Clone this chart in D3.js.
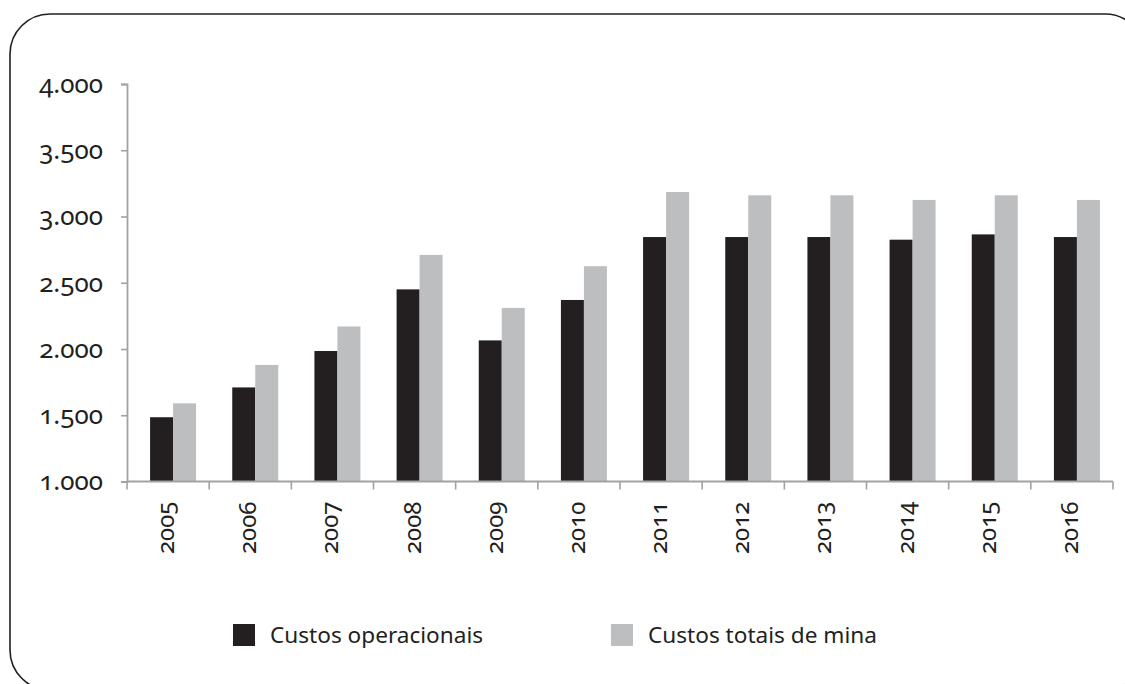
<!DOCTYPE html>
<html>
<head>
<meta charset="utf-8">
<script src="https://cdn.jsdelivr.net/npm/d3@7"></script>
<style>
  html, body { margin: 0; padding: 0; background: #fff; }
  svg { display: block; }
  text {
    font-family: "Noto Sans", "Open Sans", sans-serif;
    fill: #231f20;
    font-variant-numeric: oldstyle-nums;
    font-feature-settings: "onum" 1;
  }
</style>
</head>
<body>
<svg id="chart" width="1125" height="684"></svg>
<script>
// Anos
const years = ["2005","2006","2007","2008","2009","2010","2011","2012","2013","2014","2015","2016"];
// Custos operacionais
const operacionais = [1485, 1710, 1985, 2450, 2065, 2370, 2845, 2845, 2845, 2825, 2865, 2845];
// Custos totais de mina
const totais = [1590, 1880, 2170, 2710, 2310, 2625, 3185, 3160, 3160, 3125, 3160, 3125];
// Eixo vertical
const yTicks = [1000, 1500, 2000, 2500, 3000, 3500, 4000];
const seriesNames = ["Custos operacionais", "Custos totais de mina"];
const seriesColors = ["#231f20", "#bcbec0"];

const svg = d3.select("#chart");

// moldura arredondada
svg.append("rect")
  .attr("x", 10).attr("y", 14)
  .attr("width", 1135).attr("height", 676)
  .attr("rx", 40).attr("ry", 40)
  .attr("fill", "none")
  .attr("stroke", "#231f20")
  .attr("stroke-width", 1.6);

const x0 = 127, x1 = 1113, yTop = 84, yBot = 481.5;

const x = d3.scaleBand().domain(years).range([x0, x1]);
const y = d3.scaleLinear().domain([1000, 4000]).range([yBot, yTop]);
const barW = 23;
const shift = 5;

const fmt = v => d3.format(",")(v).replace(/,/g, ".");

// barras
const groups = svg.append("g").selectAll("g")
  .data(years)
  .join("g")
  .attr("transform", d => `translate(${x(d) + x.bandwidth() / 2 + shift},0)`);

groups.append("rect")
  .attr("x", -barW)
  .attr("width", barW)
  .attr("y", (d, i) => y(operacionais[i]))
  .attr("height", (d, i) => yBot - y(operacionais[i]))
  .attr("fill", seriesColors[0]);

groups.append("rect")
  .attr("x", 0)
  .attr("width", barW)
  .attr("y", (d, i) => y(totais[i]))
  .attr("height", (d, i) => yBot - y(totais[i]))
  .attr("fill", seriesColors[1]);

// eixo Y
const yAxis = svg.append("g")
  .attr("transform", `translate(${x0},0)`)
  .call(d3.axisLeft(y).tickValues(yTicks).tickSize(6).tickPadding(18).tickFormat(fmt));
yAxis.attr("font-family", null).attr("font-size", null);
yAxis.select(".domain").attr("stroke", "#a2a2a2").attr("stroke-width", 1.8);
yAxis.selectAll(".tick line").attr("stroke", "#a2a2a2").attr("stroke-width", 1.6);
yAxis.selectAll(".tick text")
  .attr("font-size", 26)
  .attr("fill", "#231f20");

// eixo X
const xAxis = svg.append("g").attr("transform", `translate(0,${yBot})`);
xAxis.append("line")
  .attr("x1", x0).attr("x2", x1)
  .attr("stroke", "#a2a2a2").attr("stroke-width", 1.8);
xAxis.selectAll("line.tk")
  .data(years.concat(["end"]))
  .join("line")
  .attr("class", "tk")
  .attr("x1", (d, i) => x0 + i * x.bandwidth())
  .attr("x2", (d, i) => x0 + i * x.bandwidth())
  .attr("y1", 0).attr("y2", 8)
  .attr("stroke", "#a2a2a2").attr("stroke-width", 1.6);
xAxis.selectAll("text")
  .data(years)
  .join("text")
  .attr("transform", d => `translate(${x(d) + x.bandwidth() / 2 + 6},20) rotate(-90)`)
  .attr("text-anchor", "end")
  .attr("font-size", 24)
  .text(d => d);

// legenda
const legendPos = [233, 611];
const legend = svg.append("g").selectAll("g")
  .data(seriesNames)
  .join("g")
  .attr("transform", (d, i) => `translate(${legendPos[i]},624)`);
legend.append("rect")
  .attr("width", 22).attr("height", 22)
  .attr("fill", (d, i) => seriesColors[i]);
legend.append("text")
  .attr("x", 37).attr("y", 19)
  .attr("font-size", 22.6)
  .text(d => d);
</script>
</body>
</html>
